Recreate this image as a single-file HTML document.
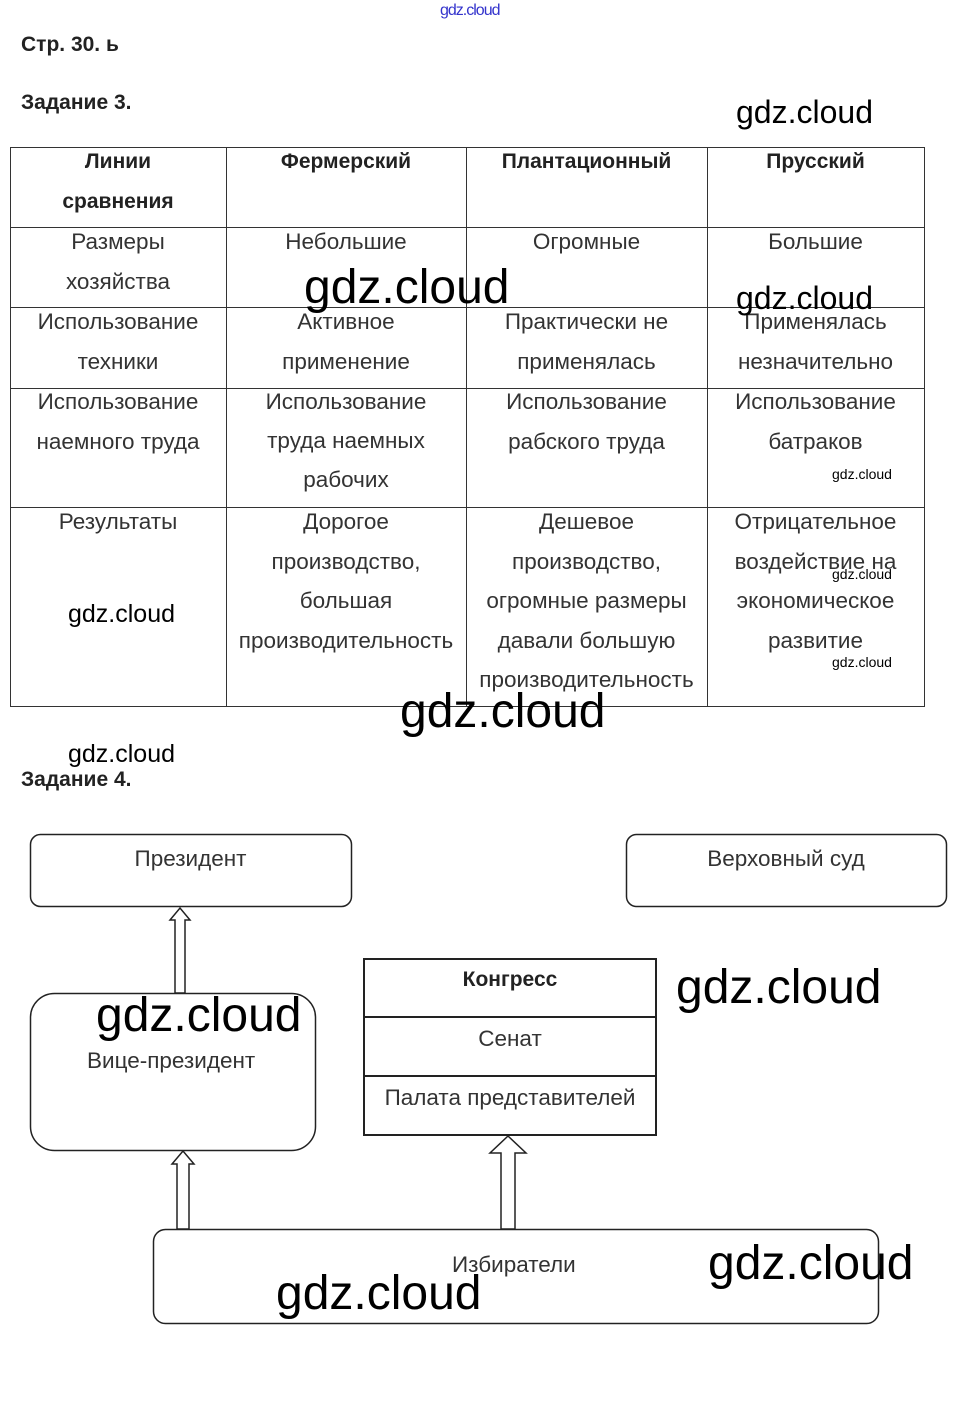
<!DOCTYPE html>
<html><head><meta charset="utf-8"><style>
body{margin:0;width:956px;height:1401px;background:#fff;position:relative;font-family:"Liberation Sans",sans-serif;color:#333;overflow:hidden}
.a{position:absolute;white-space:nowrap}
.c{position:absolute;text-align:center;font-size:22.5px;line-height:40px;color:#333;white-space:nowrap}
.b{font-weight:bold;color:#222}
.w{position:absolute;font-family:"Liberation Sans Narrow","Liberation Sans",sans-serif;color:#000;white-space:nowrap;line-height:1}
.hl{position:absolute;background:#333;height:1px}
.vl{position:absolute;background:#333;width:1px}
</style></head><body>
<div class="a" style="left:440px;top:2px;font-size:16px;color:#33c;letter-spacing:-1px">gdz.cloud</div>
<div class="a b" style="left:21px;top:33px;font-size:21px">Стр. 30. ь</div>
<div class="a b" style="left:21px;top:91px;font-size:21px">Задание 3.</div>

<div class="hl" style="left:10px;top:147px;width:915px"></div>
<div class="hl" style="left:10px;top:227px;width:915px"></div>
<div class="hl" style="left:10px;top:307px;width:915px"></div>
<div class="hl" style="left:10px;top:388px;width:915px"></div>
<div class="hl" style="left:10px;top:507px;width:915px"></div>
<div class="hl" style="left:10px;top:706px;width:915px"></div>
<div class="vl" style="left:10px;top:147px;height:560px"></div>
<div class="vl" style="left:226px;top:147px;height:560px"></div>
<div class="vl" style="left:466px;top:147px;height:560px"></div>
<div class="vl" style="left:707px;top:147px;height:560px"></div>
<div class="vl" style="left:924px;top:147px;height:560px"></div>

<div class="c b" style="left:10px;width:216px;top:142px;font-size:21px">Линии<br>сравнения</div>
<div class="c b" style="left:226px;width:240px;top:142px;font-size:21px">Фермерский</div>
<div class="c b" style="left:466px;width:241px;top:142px;font-size:21px">Плантационный</div>
<div class="c b" style="left:707px;width:217px;top:142px;font-size:21px">Прусский</div>

<div class="c" style="left:10px;width:216px;top:222px">Размеры<br>хозяйства</div>
<div class="c" style="left:226px;width:240px;top:222px">Небольшие</div>
<div class="c" style="left:466px;width:241px;top:222px">Огромные</div>
<div class="c" style="left:707px;width:217px;top:222px">Большие</div>

<div class="c" style="left:10px;width:216px;top:302px">Использование<br>техники</div>
<div class="c" style="left:226px;width:240px;top:302px">Активное<br>применение</div>
<div class="c" style="left:466px;width:241px;top:302px">Практически не<br>применялась</div>
<div class="c" style="left:707px;width:217px;top:302px">Применялась<br>незначительно</div>

<div class="c" style="left:10px;width:216px;top:382px">Использование<br>наемного труда</div>
<div class="c" style="left:226px;width:240px;top:382px;line-height:39px">Использование<br>труда наемных<br>рабочих</div>
<div class="c" style="left:466px;width:241px;top:382px">Использование<br>рабского труда</div>
<div class="c" style="left:707px;width:217px;top:382px">Использование<br>батраков</div>

<div class="c" style="left:10px;width:216px;top:502px">Результаты</div>
<div class="c" style="left:226px;width:240px;top:502px;line-height:39.5px">Дорогое<br>производство,<br>большая<br>производительность</div>
<div class="c" style="left:466px;width:241px;top:502px;line-height:39.5px">Дешевое<br>производство,<br>огромные размеры<br>давали большую<br>производительность</div>
<div class="c" style="left:707px;width:217px;top:502px;line-height:39.5px">Отрицательное<br>воздействие на<br>экономическое<br>развитие</div>

<div class="w" style="left:736px;top:96px;font-size:32px">gdz.cloud</div>
<div class="w" style="left:304px;top:264px;font-size:48px">gdz.cloud</div>
<div class="w" style="left:736px;top:282px;font-size:32px">gdz.cloud</div>
<div class="w" style="left:832px;top:467px;font-size:14px">gdz.cloud</div>
<div class="w" style="left:832px;top:567px;font-size:14px">gdz.cloud</div>
<div class="w" style="left:832px;top:655px;font-size:14px">gdz.cloud</div>
<div class="w" style="left:68px;top:602px;font-size:25px">gdz.cloud</div>
<div class="w" style="left:400px;top:688px;font-size:48px">gdz.cloud</div>
<div class="w" style="left:68px;top:742px;font-size:25px">gdz.cloud</div>
<div class="a b" style="left:21px;top:768px;font-size:21px">Задание 4.</div>

<svg style="position:absolute;left:0;top:0" width="956" height="1401">
<g fill="#fff" stroke="#222" stroke-width="1.5">
<rect x="30.5" y="834.5" width="321" height="72" rx="10"/>
<rect x="626.5" y="834.5" width="320" height="72" rx="10"/>
<rect x="30.5" y="993.5" width="285" height="157" rx="24"/>
<rect x="153.5" y="1229.5" width="725" height="94" rx="12"/>
<rect x="364" y="959" width="292" height="176" stroke-width="2"/>
<line x1="364" y1="1017" x2="656" y2="1017" stroke-width="2"/>
<line x1="364" y1="1076" x2="656" y2="1076" stroke-width="2"/>
<path d="M175 993 V920 H170 L180 908 L190 920 H185 V993 Z"/>
<path d="M177 1229 V1164 H172 L183 1151 L194 1164 H189 V1229 Z"/>
<path d="M501 1229 V1153 H490 L508 1136 L526 1153 H515 V1229 Z"/>
</g>
</svg>
<div class="c" style="left:30px;width:321px;top:839px">Президент</div>
<div class="c" style="left:626px;width:320px;top:839px">Верховный суд</div>
<div class="c b" style="left:364px;width:292px;top:960px;font-size:21px">Конгресс</div>
<div class="c" style="left:364px;width:292px;top:1019px">Сенат</div>
<div class="c" style="left:364px;width:292px;top:1078px">Палата представителей</div>
<div class="a" style="left:87px;top:1048px;font-size:22.5px">Вице-президент</div>
<div class="a" style="left:452px;top:1252px;font-size:22.5px">Избиратели</div>

<div class="w" style="left:96px;top:992px;font-size:48px">gdz.cloud</div>
<div class="w" style="left:676px;top:964px;font-size:48px">gdz.cloud</div>
<div class="w" style="left:708px;top:1240px;font-size:48px">gdz.cloud</div>
<div class="w" style="left:276px;top:1270px;font-size:48px">gdz.cloud</div>
</body></html>
